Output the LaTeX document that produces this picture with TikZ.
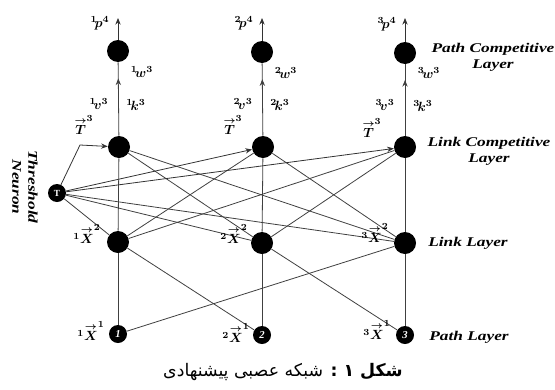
\documentclass[tikz,border=0pt]{standalone}
\usepackage{amsmath}
\usepackage{fontspec}
\setmainfont{Liberation Serif}
\newfontfamily\layerfont[FakeStretch=1.3]{Liberation Serif}
\newfontfamily\persianfont[Script=Arabic]{DejaVu Sans}
\TeXXeTstate=1
\usetikzlibrary{arrows.meta,decorations.markings}
\tikzset{
    neuron/.style={circle, fill=black, minimum size=16.5pt, inner sep=0pt},
    smallneuron/.style={circle, fill=black, minimum size=13.5pt, inner sep=0pt, text=white, font=\bfseries\itshape\footnotesize},
    conn/.style={draw=black!75, line width=0.6pt},
    arr/.style={-{Stealth[length=5pt,width=4pt]}, draw=black!80, line width=0.6pt},
    midarr/.style={postaction={decorate}, decoration={markings, mark=at position 0.78 with {\arrow{Stealth[length=5pt,width=4pt]}}}},
    lbl/.style={font=\normalsize\boldmath, inner sep=0pt},
    layerlbl/.style={font=\layerfont\bfseries\itshape\normalsize, align=center, inner sep=0pt}
}

\begin{document}
\begin{tikzpicture}[x=0.75pt, y=-0.75pt]
        \useasboundingbox (0,0) rectangle (555,389);

        % Path Competitive Layer
        \node [neuron] (o1) at (118,51) {};
        \node [neuron] (o2) at (262,52) {};
        \node [neuron] (o3) at (405,53) {};
        \coordinate (y1) at (118,18);
        \coordinate (y2) at (262,18);
        \coordinate (y3) at (405,18);

        % Link Competitive Layer
        \node [neuron] (c1) at (119,147) {};
        \node [neuron] (c2) at (263,147) {};
        \node [neuron] (c3) at (405,147) {};

        % Link Layer
        \node [neuron] (l1) at (118,242) {};
        \node [neuron] (l2) at (262,243) {};
        \node [neuron] (l3) at (405,243) {};

        % Path Layer
        \node [smallneuron] (p1) at (118,334) {1};
        \node [smallneuron] (p2) at (262,335) {2};
        \node [smallneuron] (p3) at (405,335) {3};

        % Threshold Neuron
        \node [smallneuron, font=\bfseries\scriptsize] (t) at (57,193) {T};
        \coordinate (tc) at (80,145);

        % Path Layer to Link Layer
        \draw [conn] (p1) -- (l1);
        \draw [conn] (p2) -- (l2);
        \draw [conn] (p3) -- (l3);
        \draw [conn] (p2) -- (l1);
        \draw [conn] (p3) -- (l2);
        \draw [conn] (p1) -- (l3);

        % Link Layer to Link Competitive Layer
        \draw [conn] (l1) -- (c1);
        \draw [conn] (l1) -- (c2);
        \draw [conn] (l1) -- (c3);
        \draw [conn] (l2) -- (c1);
        \draw [conn] (l2) -- (c2);
        \draw [conn] (l2) -- (c3);
        \draw [conn] (l3) -- (c1);
        \draw [conn] (l3) -- (c2);
        \draw [conn] (l3) -- (c3);

        % Threshold connections
        \draw [conn] (t) -- (l1);
        \draw [conn] (t) -- (l2);
        \draw [conn] (t) -- (l3);
        \draw [arr] (t) -- (tc) -- (c1);
        \draw [arr] (t) -- (c2);
        \draw [arr] (t) -- (c3);

        % Outputs
        \draw [conn, midarr] (c1) -- (o1);
        \draw [conn, midarr] (c2) -- (o2);
        \draw [conn, midarr] (c3) -- (o3);
        \draw [arr] (o1) -- (y1);
        \draw [arr] (o2) -- (y2);
        \draw [arr] (o3) -- (y3);

        % Labels
        \node [lbl] at (100,23) {${}^{1}\!p^{4}$};
        \node [lbl] at (244,23) {${}^{2}\!p^{4}$};
        \node [lbl] at (387,24) {${}^{3}\!p^{4}$};
        \node [lbl] at (142,72) {${}^{1}\!w^{3}$};
        \node [lbl] at (286,73) {${}^{2}\!w^{3}$};
        \node [lbl] at (429,73) {${}^{3}\!w^{3}$};
        \node [lbl] at (99,104) {${}^{1}\!v^{3}$};
        \node [lbl] at (136,105) {${}^{1}\!k^{3}$};
        \node [lbl] at (243,104) {${}^{2}\!v^{3}$};
        \node [lbl] at (280,105) {${}^{2}\!k^{3}$};
        \node [lbl] at (385,105) {${}^{3}\!v^{3}$};
        \node [lbl] at (423,106) {${}^{3}\!k^{3}$};
        \node [lbl] at (84,125) {$\overset{\rightarrow}{T}^{3}$};
        \node [lbl] at (233,125) {$\overset{\rightarrow}{T}^{3}$};
        \node [lbl] at (372,128) {$\overset{\rightarrow}{T}^{3}$};
        \node [lbl] at (87,234) {${}^{1}\overset{\rightarrow}{X}^{2}$};
        \node [lbl] at (234,234) {${}^{2}\overset{\rightarrow}{X}^{2}$};
        \node [lbl] at (375,233) {${}^{3}\overset{\rightarrow}{X}^{2}$};
        \node [lbl] at (91,331) {${}^{1}\overset{\rightarrow}{X}^{1}$};
        \node [lbl] at (236,333) {${}^{2}\overset{\rightarrow}{X}^{1}$};
        \node [lbl] at (377,330) {${}^{3}\overset{\rightarrow}{X}^{1}$};

        % Layer names
        \node [layerlbl] (pcl) at (493,57) {Path Competitive\\Layer};
        \node [layerlbl] (lcl) at (489,151) {Link Competitive\\Layer};
        \node [layerlbl] (ll) at (468,243) {Link Layer};
        \node [layerlbl] (pl) at (469,337) {Path Layer};
        \node [layerlbl, rotate=-90] (thr) at (25,187) {Threshold\\Neuron};

        % Caption
        \node (cap) at (283,372) {\persianfont\fontsize{13}{16}\selectfont\beginR\textbf{شکل ۱ :} شبکه عصبی پیشنهادی\endR};
    \end{tikzpicture}
\end{document}
